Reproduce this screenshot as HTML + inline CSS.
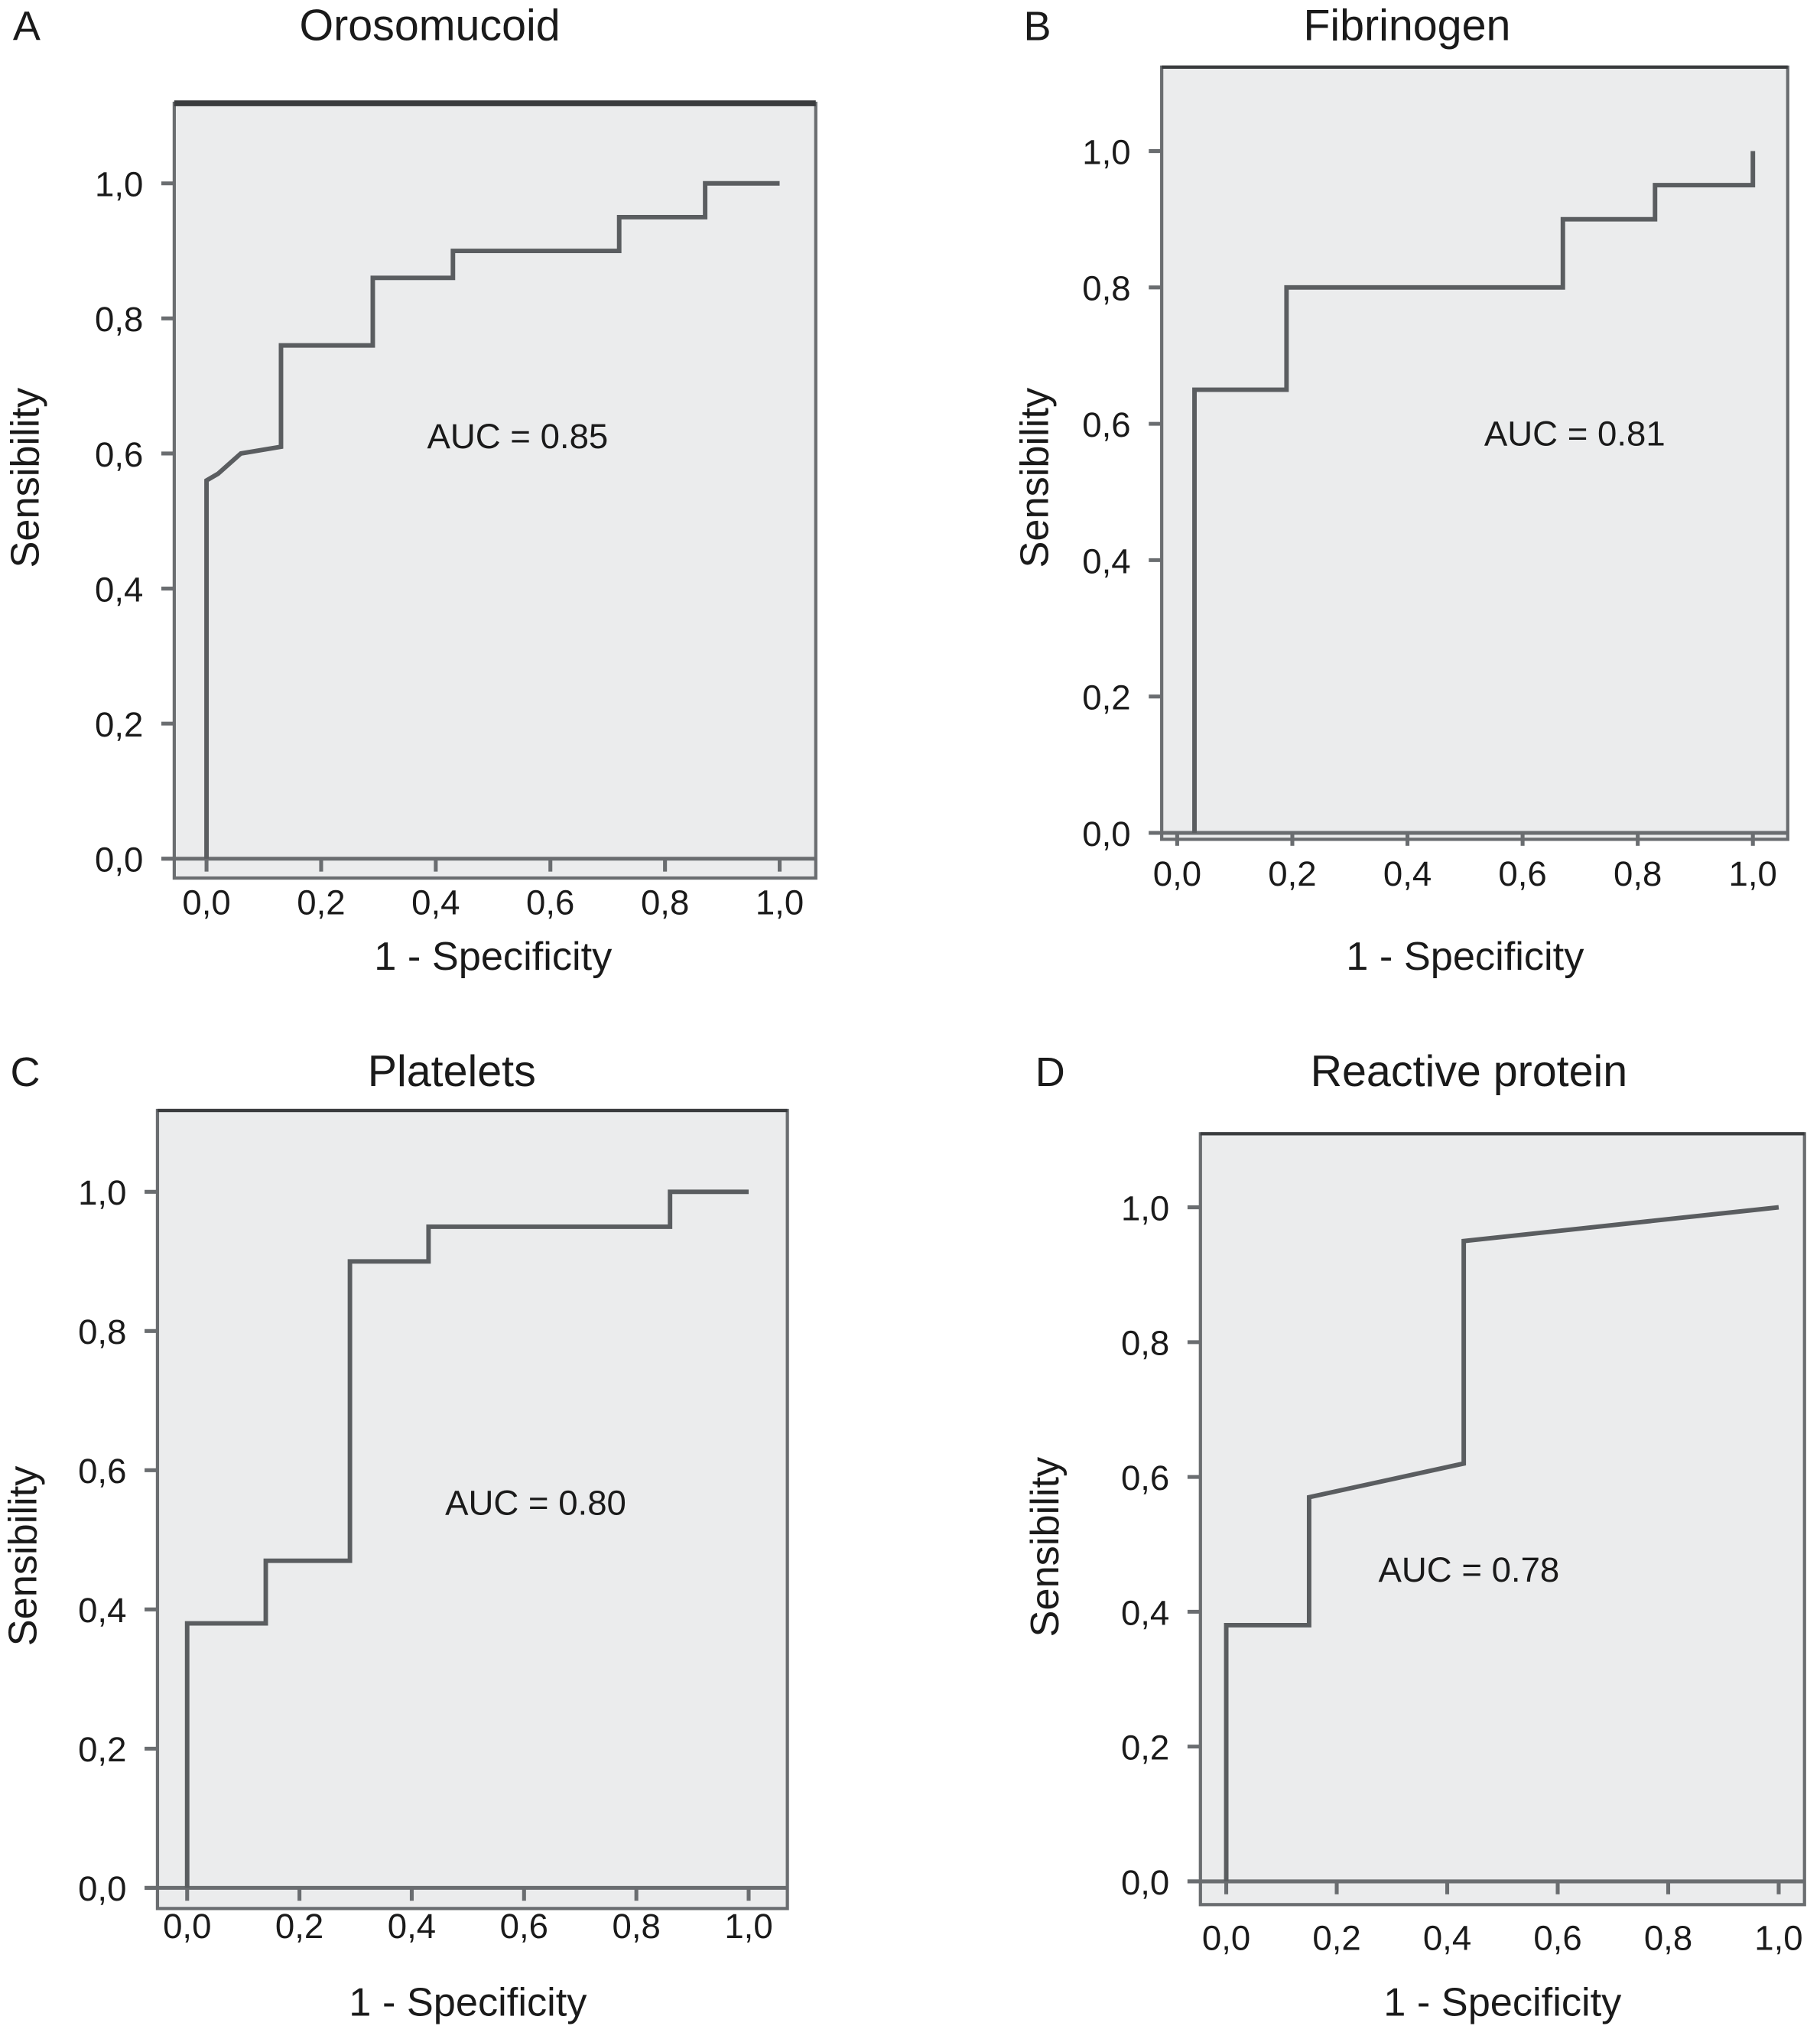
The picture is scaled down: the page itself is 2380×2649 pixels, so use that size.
<!DOCTYPE html>
<html><head><meta charset="utf-8"><style>
html,body{margin:0;padding:0;background:#fff}
svg{display:block}
text{font-family:"Liberation Sans",Arial,sans-serif;fill:#1a1a1a}
</style></head><body>
<svg id="fig" xmlns="http://www.w3.org/2000/svg" width="2380" height="2649" viewBox="0 0 1410 1569" preserveAspectRatio="none"></svg>
<script>
const panelLetters = ["A","B","C","D"];
const panelTitles = ["Orosomucoid","Fibrinogen","Platelets","Reactive protein"];
const aucLabels = ["AUC = 0.85","AUC = 0.81","AUC = 0.80","AUC = 0.78"];
const tickValues = [0,0.2,0.4,0.6,0.8,1.0];
const tickLabels = ["0,0","0,2","0,4","0,6","0,8","1,0"];
const curveAx = [0,0,0.02,0.06,0.13,0.13,0.29,0.29,0.43,0.43,0.72,0.72,0.87,0.87,1];
const curveAy = [0,0.56,0.57,0.60,0.61,0.76,0.76,0.86,0.86,0.90,0.90,0.95,0.95,1,1];
const curveBx = [0.03,0.03,0.19,0.19,0.67,0.67,0.83,0.83,1,1];
const curveBy = [0,0.65,0.65,0.80,0.80,0.90,0.90,0.95,0.95,1];
const curveCx = [0,0,0.14,0.14,0.29,0.29,0.43,0.43,0.86,0.86,1];
const curveCy = [0,0.38,0.38,0.47,0.47,0.90,0.90,0.95,0.95,1,1];
const curveDx = [0,0,0.15,0.15,0.43,0.43,1];
const curveDy = [0,0.38,0.38,0.57,0.62,0.95,1];
const curvesX=[curveAx,curveBx,curveCx,curveDx], curvesY=[curveAy,curveBy,curveCy,curveDy];
// layout (not data)
const L=[
 {bx0:135,bx1:632,by0:80,by1:680,x0:160,x1:604,y0:665,y1:142,letter:[10,31],title:[333,31],auc:[401,347],xt:708,xtitle:751,ytx:30,ym:370,top:4.5},
 {bx0:900,bx1:1385,by0:52,by1:650,x0:912,x1:1358,y0:645,y1:117,letter:[793,31],title:[1090,31],auc:[1220,345],xt:686,xtitle:751,ytx:812,ym:370,top:2.5},
 {bx0:122,bx1:610,by0:860,by1:1478,x0:145,x1:580,y0:1462,y1:923,letter:[8,841],title:[350,841],auc:[415,1173],xt:1501,xtitle:1561,ytx:28,ym:1205,top:2.5},
 {bx0:930,bx1:1398,by0:878,by1:1475,x0:950,x1:1378,y0:1457,y1:935,letter:[802,841],title:[1138,841],auc:[1138,1225],xt:1510,xtitle:1561,ytx:820,ym:1198,top:2.5}
];
const NS="http://www.w3.org/2000/svg", svg=document.getElementById('fig');
function mk(t,a,p){const e=document.createElementNS(NS,t);for(const k in a)e.setAttribute(k,a[k]);(p||svg).appendChild(e);return e;}
for(let i=0;i<4;i++){
 const c=L[i];
 const sx=v=>c.x0+v*(c.x1-c.x0), sy=v=>c.y0+v*(c.y1-c.y0);
 const g=mk('g',{});
 
 
 const r=mk('rect',{x:c.bx0,y:c.by0,width:c.bx1-c.bx0,height:c.by1-c.by0,fill:'#ebeced',stroke:'#6a6d70','stroke-width':2.5},g);
 
 mk('line',{x1:c.bx0,x2:c.bx1,y1:c.by0,y2:c.by0,stroke:'#3a3c3e','stroke-width':c.top},g);
 const xa=mk('line',{x1:c.bx0-10,x2:c.bx1,y1:c.y0,y2:c.y0,stroke:'#6a6d70','stroke-width':3},g);
 
 tickValues.forEach((v,k)=>{
  mk('line',{x1:sx(v),x2:sx(v),y1:c.y0,y2:c.y0+10,stroke:'#6a6d70','stroke-width':3},g);
  mk('line',{x1:c.bx0-10,x2:c.bx0,y1:sy(v),y2:sy(v),stroke:'#6a6d70','stroke-width':3},g);
  const tx=mk('text',{x:sx(v),y:c.xt,'font-size':27,'text-anchor':'middle'},g);tx.textContent=tickLabels[k];
  
  const ty=mk('text',{x:c.bx0-24,y:sy(v)+10,'font-size':27,'text-anchor':'end'},g);ty.textContent=tickLabels[k];
  
 });
 const xs=curvesX[i], ys=curvesY[i];
 const pts=xs.map((x,k)=>sx(x).toFixed(1)+','+sy(ys[k]).toFixed(1)).join(' ');
 const pl=mk('polyline',{points:pts,fill:'none',stroke:'#5a5d60','stroke-width':3.5},g);
 
 const lt=mk('text',{x:c.letter[0],y:c.letter[1],'font-size':32},g);lt.textContent=panelLetters[i];
 
 const tt=mk('text',{x:c.title[0],y:c.title[1],'font-size':34,'text-anchor':'middle'},g);tt.textContent=panelTitles[i];
 
 const at=mk('text',{x:c.auc[0],y:c.auc[1],'font-size':27,'text-anchor':'middle'},g);at.textContent=aucLabels[i];
 
 const xt=mk('text',{x:(c.x0+c.x1)/2,y:c.xtitle,'font-size':31,'text-anchor':'middle'},g);xt.textContent='1 - Specificity';
 
 const ym=c.ym;
 const yt=mk('text',{x:c.ytx,y:ym,'font-size':31,'text-anchor':'middle',transform:`rotate(-90 ${c.ytx} ${ym})`},g);yt.textContent='Sensibility';
 
}
</script>
</body></html>
